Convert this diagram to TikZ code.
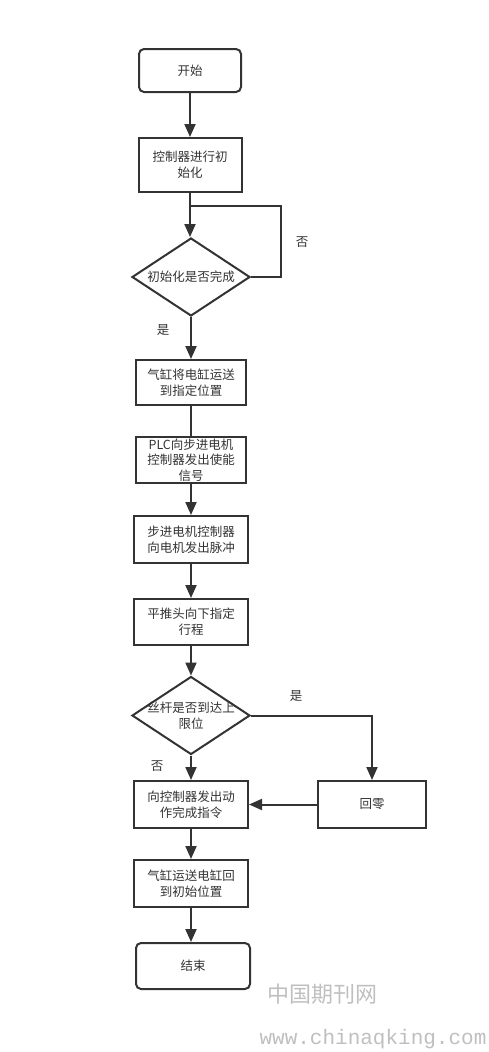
\documentclass[tikz,border=0pt]{standalone}
\usepackage{fontspec}
\setmainfont{Noto Sans CJK SC}
\newfontfamily\wmfont{Liberation Mono}
\usetikzlibrary{positioning,shapes.geometric,arrows.meta}
\definecolor{linegray}{HTML}{333333}
\begin{document}
\begin{tikzpicture}[
        x=1pt, y=1pt,
        >={Triangle[length=13pt,width=11pt]},
        every node/.style={text=linegray, font=\fontsize{12.5}{16}\selectfont, align=center},
        proc/.style={draw=linegray, line width=2pt, rectangle, inner sep=1pt},
        term/.style={proc, rounded corners=5pt},
        decision/.style={draw=linegray, line width=2pt, diamond, minimum width=118pt, minimum height=78pt, inner sep=0pt},
        flow/.style={draw=linegray, line width=2pt},
        lbl/.style={inner sep=0pt},
        wmark/.style={text=gray!50},
    ]
    \useasboundingbox (0,0) rectangle (488,-1052);
    % main column
    \node[term, minimum width=102pt, minimum height=43pt] (start) at (190,-70.5) {开始};
    \node[proc, minimum width=103pt, minimum height=54pt] (init) at (190,-165) {控制器进行初\\始化};
    \node[decision, label={[align=center]center:初始化是否完成}] (dec1) at (191,-277) {};
    \node[proc, minimum width=110pt, minimum height=45pt] (load) at (191,-382.5) {气缸将电缸运送\\到指定位置};
    \node[proc, minimum width=110pt, minimum height=46pt, inner sep=0pt, font=\fontsize{12.5}{15.5}\selectfont] (enable) at (191,-460) {PLC向步进电机\\控制器发出使能\\信号};
    \node[proc, minimum width=114pt, minimum height=47pt] (pulse) at (191,-539.5) {步进电机控制器\\向电机发出脉冲};
    \node[proc, minimum width=114pt, minimum height=46pt] (push) at (191,-622) {平推头向下指定\\行程};
    \node[decision, label={[align=center]center:丝杆是否到达上\\限位}] (dec2) at (191,-715.5) {};
    \node[proc, minimum width=114pt, minimum height=47pt] (done) at (191,-804.5) {向控制器发出动\\作完成指令};
    \node[proc, minimum width=108pt, minimum height=47pt] (zero) at (372,-804.5) {回零};
    \node[proc, minimum width=114pt, minimum height=47pt] (back) at (191,-883.5) {气缸运送电缸回\\到初始位置};
    \node[term, minimum width=114pt, minimum height=46pt] (stop) at (193,-966) {结束};
    % branch labels
    \node[lbl] (no1) at ([xshift=51pt,yshift=35pt]dec1.east) {否};
    \node[lbl] (yes1) at ([xshift=-28pt,yshift=-13pt]dec1.south) {是};
    \node[lbl] (yes2) at ([xshift=45pt,yshift=19pt]dec2.east) {是};
    \node[lbl] (no2) at ([xshift=-34pt,yshift=-11pt]dec2.south) {否};
    % connectors
    \coordinate (join) at (190,-206);
    \draw[flow,->] (start) -- (init);
    \draw[flow,->] (init.south) -- (init.south |- dec1.north);
    \draw[flow] (dec1.east) -- ++(30pt,0) |- (join);
    \draw[flow,->] (dec1) -- (load);
    \draw[flow] (load) -- (enable);
    \draw[flow,->] (enable) -- (pulse);
    \draw[flow,->] (pulse) -- (push);
    \draw[flow,->] (push) -- (dec2);
    \draw[flow,->] (dec2) -- (done);
    \draw[flow,->] (dec2.east) -| (zero);
    \draw[flow,->] (zero) -- (done);
    \draw[flow,->] (done) -- (back);
    \draw[flow,->] (back.south) -- (back.south |- stop.north);
    % watermark
    \node[wmark, font=\fontsize{22}{22}\selectfont] (wm1) at (322,-994) {中国期刊网};
    \node[wmark, font=\wmfont\fontsize{21}{21}\selectfont] (wm2) at (373,-1039) {www.chinaqking.com};
\end{tikzpicture}
\end{document}
